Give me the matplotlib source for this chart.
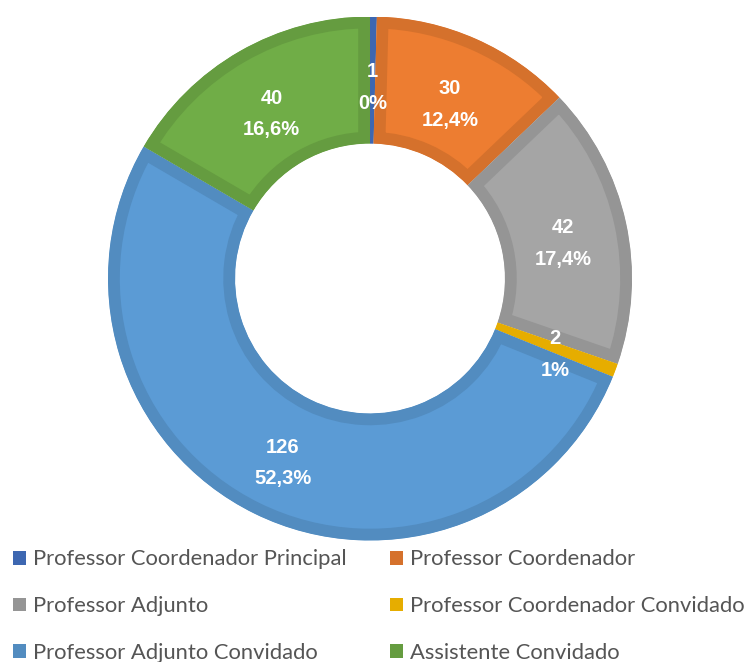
import matplotlib.pyplot as plt
import numpy as np
from matplotlib.patches import Patch

categories = ['Professor Coordenador Principal', 'Professor Coordenador',
              'Professor Adjunto', 'Professor Coordenador Convidado',
              'Professor Adjunto Convidado', 'Assistente Convidado']
counts = [1, 30, 42, 2, 126, 40]
pct_labels = ['0%', '12,4%', '17,4%', '1%', '52,3%', '16,6%']

fill_colors = ['#4472C4', '#ED7D31', '#A5A5A5', '#FFC000', '#5B9BD5', '#70AD47']
edge_colors = ['#3D67B1', '#D5712C', '#959595', '#E6AD00', '#528CC0', '#659C40']

plt.rcParams['font.family'] = ['Lato', 'DejaVu Sans']

fig = plt.figure(figsize=(7.45, 6.62), dpi=100)
ax = fig.add_axes([108 / 745, 121.5 / 662, 524 / 745, 524 / 662])

inner = 0.515
wedges, _ = ax.pie(counts, colors=fill_colors, startangle=90, counterclock=False,
                   radius=1.0, wedgeprops=dict(width=1 - inner))

# darker inner rim: thick stroke clipped to the wedge itself
for w, ec in zip(wedges, edge_colors):
    w.set_edgecolor(ec)
    w.set_linewidth(17)
    w.set_joinstyle('miter')
    w.set_clip_on(True)
    w.set_clip_path(w)

label_r = 0.755
for w, n, p in zip(wedges, counts, pct_labels):
    ang = np.deg2rad((w.theta1 + w.theta2) / 2)
    ax.annotate(f'{n}\n{p}', (label_r * np.cos(ang), label_r * np.sin(ang)),
                xytext=(0, -5), textcoords='offset points',
                ha='center', va='center', color='white', fontsize=14.5,
                fontweight='bold', family=['Liberation Sans', 'DejaVu Sans'],
                linespacing=1.85)

ax.set_xlim(-1, 1)
ax.set_ylim(-1, 1)
ax.set_aspect('equal')
ax.axis('off')

# legend filled row by row
order = [0, 2, 4, 1, 3, 5]
handles = [Patch(facecolor=edge_colors[i], edgecolor='none') for i in order]
labels = [categories[i] for i in order]
fig.legend(handles, labels, ncol=2, loc='upper left',
           bbox_to_anchor=(13 / 745, 0.170), frameon=False, fontsize=15.8,
           borderpad=0, borderaxespad=0,
           handlelength=0.6, handleheight=0.6, handletextpad=0.32,
           labelspacing=1.22, columnspacing=1.96, labelcolor='#555555')

fig.savefig('out.png', dpi=100)
